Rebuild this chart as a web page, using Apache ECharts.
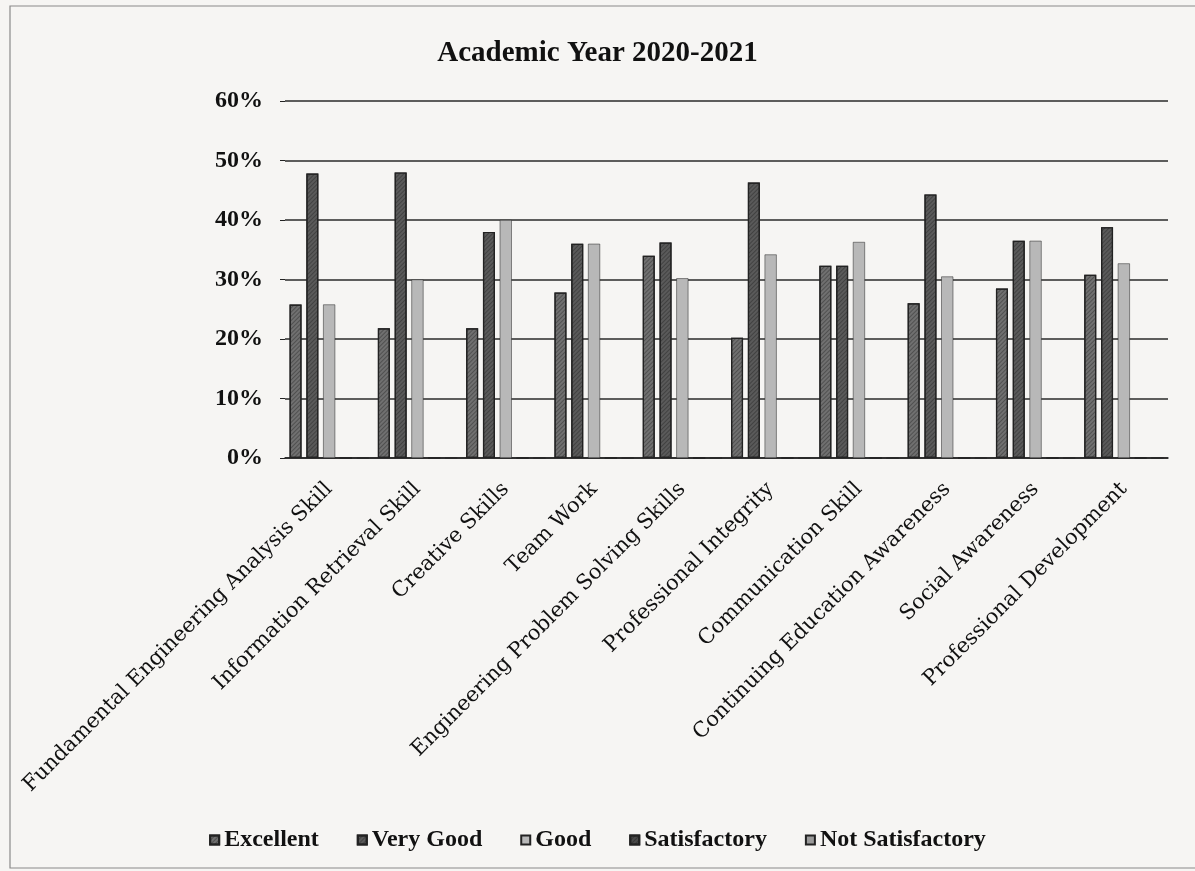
<!DOCTYPE html>
<html>
<head>
<meta charset="utf-8">
<script src="https://cdn.jsdelivr.net/npm/echarts@6/dist/echarts.min.js"></script>
<style>
html,body{margin:0;padding:0;background:#f6f5f3;}
#chart{width:1195px;height:871px;}
</style>
</head>
<body>
<div id="chart"></div>
<script>
const categories = [
  'Fundamental Engineering Analysis Skill',
  'Information Retrieval Skill',
  'Creative Skills',
  'Team Work',
  'Engineering Problem Solving Skills',
  'Professional Integrity',
  'Communication Skill',
  'Continuing Education Awareness',
  'Social Awareness',
  'Professional Development'
];
const seriesNames = ['Excellent', 'Very Good', 'Good', 'Satisfactory', 'Not Satisfactory'];
const excellent       = [25.8, 21.8, 21.8, 27.8, 34.0, 20.2, 32.3, 26.0, 28.5, 30.8];
const veryGood        = [47.8, 48.0, 38.0, 36.0, 36.2, 46.3, 32.3, 44.3, 36.5, 38.8];
const good            = [25.8, 30.0, 40.0, 36.0, 30.2, 34.2, 36.3, 30.5, 36.5, 32.7];
const satisfactory    = [0, 0, 0, 0, 0, 0, 0, 0, 0, 0];
const notSatisfactory = [0, 0, 0, 0, 0, 0, 0, 0, 0, 0];
const yTicks = [0, 10, 20, 30, 40, 50, 60];

const values = [excellent, veryGood, good, satisfactory, notSatisfactory];
const colors = ['#707070', '#5a5a5a', '#b8b8b8', '#4a4a4a', '#9a9a9a'];
const hatched = [true, true, false, true, false];

const chart = echarts.init(document.getElementById('chart'));
const serif = 'Liberation Serif, Times New Roman, serif';

chart.setOption({
  backgroundColor: '#f6f5f3',
  animation: false,
  title: {
    text: 'Academic Year 2020-2021',
    left: 'center',
    top: 34,
    textStyle: { fontFamily: serif, fontWeight: 'bold', fontSize: 29, color: '#111' }
  },
  legend: {
    bottom: 14,
    left: 'center',
    itemWidth: 9,
    itemHeight: 9,
    itemGap: 38,
    icon: 'rect',
    data: seriesNames,
    textStyle: { fontFamily: serif, fontWeight: 'bold', fontSize: 24, color: '#111' }
  },
  grid: { left: 285, right: 27, top: 101, bottom: 413, containLabel: false },
  xAxis: {
    type: 'category',
    data: categories,
    axisLine: { show: true, lineStyle: { color: '#222', width: 1.5 } },
    axisTick: { show: false },
    axisLabel: {
      interval: 0,
      rotate: 45,
      margin: 28,
      fontFamily: 'DejaVu Serif, serif',
      fontSize: 21,
      color: '#111'
    }
  },
  yAxis: {
    type: 'value',
    min: 0,
    max: 60,
    interval: 10,
    axisLine: { show: false },
    axisTick: { show: true, length: 5, lineStyle: { color: '#222' } },
    splitLine: { show: true, lineStyle: { color: '#2a2a2a', width: 1.5 } },
    axisLabel: {
      margin: 22,
      fontFamily: serif,
      fontWeight: 'bold',
      fontSize: 24,
      color: '#111',
      formatter: function (v) { return yTicks.indexOf(v) >= 0 ? v + '%' : ''; }
    }
  },
  series: seriesNames.map(function (name, i) {
    const itemStyle = {
      color: colors[i],
      borderColor: '#222',
      borderWidth: (i === 2 || i === 4) ? 0.5 : 1.2
    };
    if (hatched[i]) {
      itemStyle.decal = {
        symbol: 'rect',
        symbolSize: 1,
        color: 'rgba(20,20,20,0.35)',
        dashArrayX: [1, 0],
        dashArrayY: [1, 2],
        rotation: -Math.PI / 4
      };
    }
    return {
      name: name,
      type: 'bar',
      data: values[i],
      barWidth: 12,
      barGap: '40%',
      itemStyle: itemStyle
    };
  }),
  graphic: [
    {
      type: 'rect',
      shape: { x: 10, y: 6, width: 1200, height: 862 },
      style: { fill: 'none', stroke: '#8a8a8a', lineWidth: 1.2 },
      silent: true
    }
  ]
});
</script>
</body>
</html>
